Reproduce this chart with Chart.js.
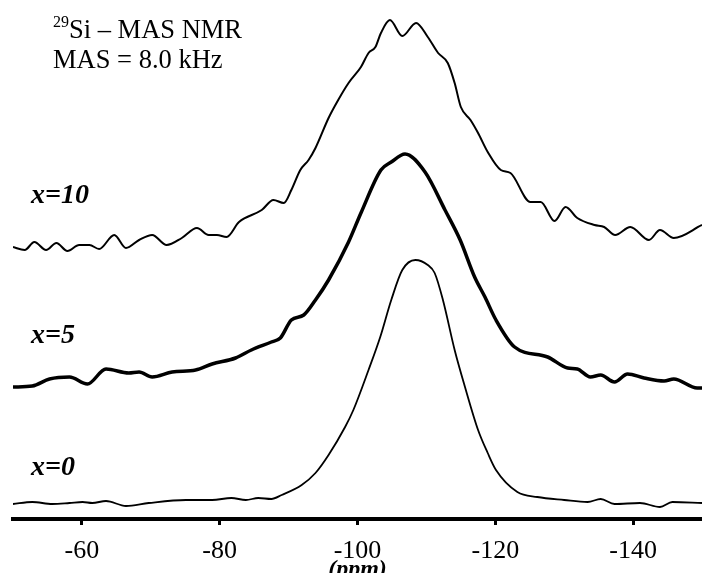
<!DOCTYPE html>
<html>
<head>
<meta charset="utf-8">
<title>29Si MAS NMR</title>
<script src="https://cdn.jsdelivr.net/npm/chart.js@4/dist/chart.umd.min.js"></script>
<style>
  html, body { margin: 0; padding: 0; background: #fff; }
  #wrap { width: 702px; height: 573px; }
</style>
</head>
<body>
<div id="wrap"><canvas id="nmrChart" width="702" height="573"></canvas></div>
<script>
// chemical shift axis (ppm)
const tickValues = [-60, -80, -100, -120, -140];

// x = 10
const ppm10 = [-50, -51.7, -53.1, -54.8, -56.3, -57.9, -59.6, -61.1, -62.5, -64.7, -66.4, -68.3, -70.2, -72.3, -74.5,
  -76.7, -78.4, -79.6, -81.0, -82.8, -86.1, -87.8, -89.3, -90.4, -91.7, -92.9, -93.9, -95.8, -97.2, -98.7, -100.5,
  -101.6, -102.6, -103.4, -104.7, -106.5, -108.5, -110.2, -111.7, -113.1, -114.1, -115.0, -116.4, -117.5, -118.9,
  -120.8, -122.2, -125.1, -126.6, -128.6, -130.2, -131.9, -134.4, -135.8, -137.4, -139.6, -142.3, -143.9, -145.9, -150];
const int10 = [0, -3, 5, -3, 4, -4, 2, 2, -2, 12, -1, 7, 12, 2, 9,
  19, 12, 12, 10, 25, 37, 47, 44, 57, 77, 87, 99, 129, 147, 164, 180,
  194, 200, 214, 227, 211, 224, 210, 194, 184, 164, 140, 127, 114, 95,
  77, 74, 45, 45, 26, 40, 29, 22, 20, 12, 20, 7, 17, 9, 22];

// x = 5
const ppm5 = [-50, -52.8, -55.3, -58.2, -60.8, -63.5, -66.8, -68.3, -70.2, -73.1, -76.5, -78.9, -82.3, -84.6, -87.5,
  -88.8, -90.4, -92.2, -93.9, -95.8, -98.7, -100.5, -103.4, -104.9, -106.9, -109.8, -112.7, -114.9, -117.0, -118.5,
  -120.1, -122.8, -127.6, -130.5, -131.9, -133.8, -135.3, -137.3, -139.2, -141.6, -144.5, -145.9, -149.3, -150];
const int5 = [-1, 0, 7, 9, 2, 17, 13, 14, 9, 14, 16, 22, 28, 36, 44,
  48, 66, 71, 86, 106, 144, 173, 216, 224, 232, 214, 176, 146, 109, 89,
  66, 39, 29, 18, 17, 9, 11, 4, 12, 8, 5, 7, -2, -2];

// x = 0
const ppm0 = [-50, -52.8, -55.7, -58.2, -60.1, -61.5, -63.5, -66.4, -69.7, -75.1, -78.9, -81.7, -83.8, -85.6, -87.5,
  -89.0, -91.9, -93.9, -95.8, -98.2, -99.4, -101.6, -103.3, -104.9, -106.5, -108.4, -110.2, -111.2, -112.4, -114.1,
  -115.6, -117.5, -118.9, -120.1, -123.2, -126.1, -130.0, -133.4, -135.3, -137.3, -141.0, -143.9, -145.7, -150];
const int0 = [-1, 1, -1, 0, 1, 0, 2, -3, 0, 3, 3, 5, 3, 5, 4,
  8, 18, 30, 48, 76, 93, 133, 166, 203, 233, 243, 238, 230, 203, 153,
  116, 73, 50, 33, 11, 6, 3, 1, 4, -1, 0, -4, 1, 0];

// stacking offsets and trace labels
const labels = ['x=10', 'x=5', 'x=0'];
const offsets = [272, 133, 16];
const widths = [2, 3.5, 1.8];

const serif = "'Liberation Serif', 'Times New Roman', serif";

function toPoints(xs, ys, off) {
  return xs.map((p, i) => ({ x: p, y: off + ys[i] }));
}

const traces = [[ppm10, int10], [ppm5, int5], [ppm0, int0]];

const nmrData = {
  datasets: traces.map((t, i) => ({
    label: labels[i],
    data: toPoints(t[0], t[1], offsets[i]),
    borderColor: '#000',
    borderWidth: widths[i],
    pointRadius: 0,
    fill: false,
    cubicInterpolationMode: 'monotone'
  }))
};

// text drawn over the plot: header and x=... labels
const textPlugin = {
  id: 'nmrText',
  afterDraw(chart) {
    const ctx = chart.ctx;
    const y = chart.scales.y;
    ctx.save();
    ctx.fillStyle = '#000';
    ctx.textBaseline = 'alphabetic';
    ctx.textAlign = 'left';

    ctx.font = '16px ' + serif;
    ctx.fillText('29', 53, 27);
    const w = ctx.measureText('29').width;
    ctx.font = '26.5px ' + serif;
    ctx.fillText('Si \u2013 MAS NMR', 53 + w, 38);
    ctx.fillText('MAS = 8.0 kHz', 53, 68);

    ctx.font = 'italic bold 28px ' + serif;
    const rise = [44, 43, 28];
    labels.forEach((txt, i) => {
      ctx.fillText(txt, 31, y.getPixelForValue(offsets[i]) - rise[i]);
    });
    ctx.restore();
  }
};

const nmrOptions = {
  responsive: false,
  animation: false,
  devicePixelRatio: 1,
  layout: { padding: { left: 13, right: 0, top: 0, bottom: 0 } },
  plugins: {
    legend: { display: false },
    tooltip: { enabled: false }
  },
  scales: {
    x: {
      type: 'linear',
      min: -150,
      max: -50,
      reverse: true,
      afterBuildTicks: (axis) => { axis.ticks = tickValues.map(v => ({ value: v })); },
      grid: {
        display: true,
        drawOnChartArea: false,
        drawTicks: true,
        tickLength: 6,
        tickWidth: 3,
        tickColor: '#000'
      },
      border: { display: true, width: 4, color: '#000' },
      ticks: {
        color: '#000',
        padding: 11,
        maxRotation: 0,
        font: { family: serif, size: 26 }
      },
      title: {
        display: true,
        text: '(ppm)',
        color: '#000',
        padding: { top: -23, bottom: -11 },
        font: { family: serif, size: 24, style: 'italic', weight: 'bold' }
      }
    },
    y: {
      display: false,
      min: 0,
      max: 519
    }
  }
};

var nmrCtx = document.getElementById('nmrChart').getContext('2d');
var chart1 = new Chart(nmrCtx, {
  type: 'line',
  data: nmrData,
  options: nmrOptions,
  plugins: [textPlugin]
});
</script>
</body>
</html>
